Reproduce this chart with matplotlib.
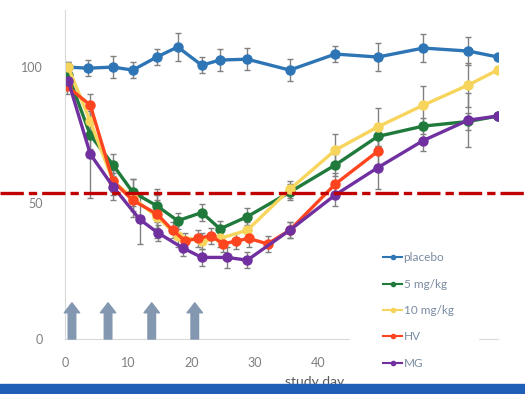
import matplotlib
matplotlib.use("Agg")
import matplotlib.pyplot as plt
from matplotlib.lines import Line2D
from matplotlib.patches import Rectangle

plt.rcParams['font.family'] = ['Lato', 'DejaVu Sans']

# study days / values (% of baseline) / error
placebo_days = [0.5, 3.6, 7.6, 10.7, 14.5, 17.8, 21.6, 24.5, 28.8, 35.5, 42.7, 49.4, 56.6, 63.7, 68.4]
placebo = [100, 99.6, 100, 98.9, 103.7, 107.4, 100.7, 102.6, 102.9, 98.9, 104.8, 103.7, 107, 105.9, 103.7]
placebo_err = [2, 3, 4, 3, 3, 5, 3, 4, 4, 4, 3, 5, 5, 5, 0]

g5_days = [0.5, 4, 7.6, 10.7, 14.5, 17.8, 21.6, 24.5, 28.8, 35.5, 42.7, 49.4, 56.6, 63.7, 68.4]
g5 = [97, 75, 64, 54, 49, 43.5, 46.5, 40.5, 45, 54, 64, 74.5, 78.3, 80, 82]
g5_err = [2, 5, 4, 5, 6, 3, 3, 3, 3, 3, 4, 4, 3, 3, 0]

g10_days = [0.5, 4, 7.6, 10.7, 14.5, 17.8, 21.6, 24.5, 28.8, 35.5, 42.7, 49.4, 56.6, 63.7, 68.4]
g10 = [100, 80, 58, 52, 45, 38, 36, 37, 40, 55, 69.5, 78, 86, 93.4, 99]
g10_err = [2, 6, 5, 7, 8, 4, 3, 3, 3, 3, 6, 7, 7, 8, 0]

hv_days = [0.3, 4, 7.6, 10.7, 14.5, 17, 19, 21, 23, 25, 27, 29, 32, 35.5, 42.7, 49.4]
hv = [93, 86, 58, 51, 46, 40, 36, 37, 38, 35, 36, 37, 35, 40, 57, 69]
hv_err = [3, 4, 4, 4, 5, 3, 3, 3, 3, 3, 3, 3, 3, 3, 4, 5]

mg_days = [0.5, 4, 7.6, 11.8, 14.7, 18.6, 21.6, 25.6, 28.8, 35.5, 42.7, 49.4, 56.6, 63.7, 68.4]
mg = [95, 68, 56, 44, 39, 33.5, 30, 30, 29, 40, 53, 63, 73, 80.5, 82]
mg_err = [3, 16, 5, 9, 3, 3, 3, 4, 3, 3, 4, 8, 4, 10, 0]

dose_days = [1.1, 6.8, 13.7, 20.5]
cutoff = 53.7

series = [
    ("placebo", placebo_days, placebo, placebo_err, "#2e75b6"),
    ("5 mg/kg", g5_days, g5, g5_err, "#1f7a3c"),
    ("10 mg/kg", g10_days, g10, g10_err, "#f7d55c"),
    ("HV", hv_days, hv, hv_err, "#ff4420"),
    ("MG", mg_days, mg, mg_err, "#7030a0"),
]

fig = plt.figure(figsize=(5.25, 3.94), dpi=100)
ax = fig.add_axes([65 / 525, 1 - 339 / 394, 433 / 525, 329 / 394])

handles = []
for name, d, v, e, col in series:
    ax.errorbar(d, v, yerr=e, fmt='-o', color=col, lw=2.4, ms=6.5,
                ecolor='#808080', elinewidth=1, capsize=2.5, capthick=1)
    handles.append(Line2D([], [], color=col, lw=1.5, marker='o', ms=3))

# dosing arrows
for d in dose_days:
    ax.annotate('', xy=(d, 13.3), xytext=(d, 0),
                arrowprops=dict(arrowstyle='simple,head_length=0.55,head_width=0.85,tail_width=0.42',
                                color='#8497b0', shrinkA=0, shrinkB=0, mutation_scale=13))

# red dashed cut-off line across the whole width
ax.axhline(cutoff, xmin=-65 / 433, xmax=460 / 433, clip_on=False,
           color='#c00000', lw=2.4, dashes=(7, 1.5, 2.5, 1.5), zorder=5)

ax.set_xlim(0, 68.4)
ax.set_ylim(0, 121)
ax.set_xticks([0, 10, 20, 30, 40, 50, 60])
ax.set_yticks([0, 50, 100])
for s in ['top', 'right']:
    ax.spines[s].set_visible(False)
for s in ['left', 'bottom']:
    ax.spines[s].set_color('#d9d9d9')
ax.tick_params(length=0, labelsize=9, labelcolor='#7f7f7f')
ax.tick_params(axis='x', pad=13)
ax.tick_params(axis='y', pad=16)

# white box behind the legend hides the axis line and the 50/60 ticks there
fig.patches.append(Rectangle((350 / 525, 1 - 382 / 394), 128 / 525, 140 / 394,
                             transform=fig.transFigure, color='white', zorder=3))

leg = fig.legend(handles, [s[0] for s in series], loc='upper left',
                 bbox_to_anchor=(374 / 525, 1 - 243 / 394), frameon=False,
                 fontsize=8.5, labelspacing=1.3, handlelength=1.6, handletextpad=0.1,
                 borderpad=0.3)
for t in leg.get_texts():
    t.set_color('#7a8ba3')

fig.text(315 / 525, 1 - 382 / 394, "study day", ha='center', va='center',
         fontsize=10, color='#595959')

# blue band at the bottom of the slide
fig.patches.append(Rectangle((0, 0), 1, 1 - 384 / 394, transform=fig.transFigure,
                             color='#1f5fb8', zorder=10))

fig.savefig("out.png", dpi=100)
